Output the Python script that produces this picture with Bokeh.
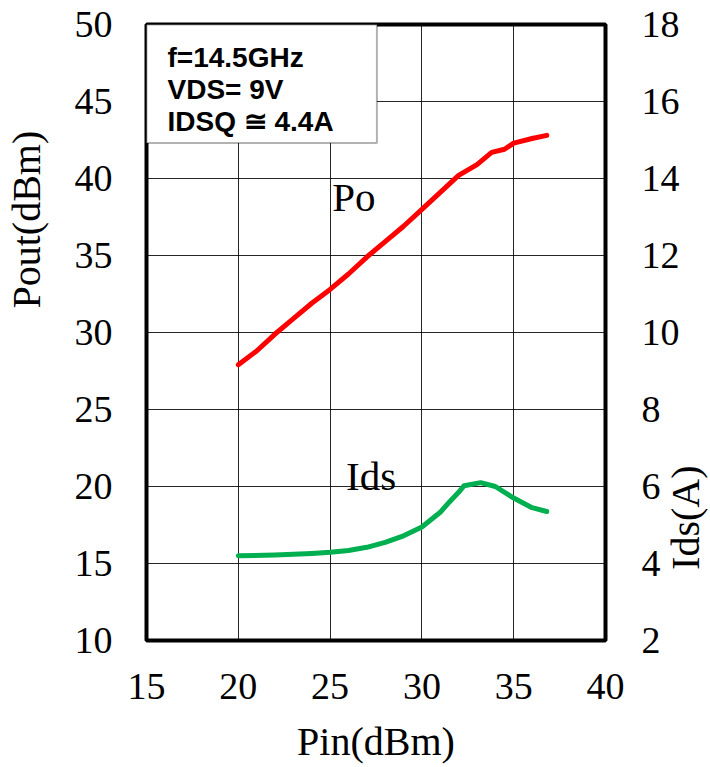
import math
from bokeh.plotting import figure
from bokeh.models import Range1d, LinearAxis, Label, BoxAnnotation, FixedTicker, Title
from bokeh.embed import file_html
from bokeh.resources import INLINE

# ---- data ----
pin_po = [20, 21, 22, 23, 24, 25, 26, 27, 28, 29, 30, 31, 32, 33, 33.8, 34.5, 35, 36, 36.8]
po = [27.9, 28.8, 29.9, 30.9, 31.9, 32.8, 33.8, 34.9, 35.9, 36.9, 38.0, 39.1, 40.2, 40.9, 41.7, 41.9, 42.3, 42.6, 42.8]

pin_ids = [20, 22, 24, 25, 26, 27, 28, 29, 30, 31, 31.5, 32, 32.3, 33.2, 34, 35, 36, 36.8]
ids = [4.2, 4.22, 4.26, 4.29, 4.34, 4.42, 4.55, 4.72, 4.95, 5.33, 5.6, 5.85, 6.02, 6.1, 6.0, 5.7, 5.45, 5.35]

x_ticks = [15, 20, 25, 30, 35, 40]
y_ticks = [10, 15, 20, 25, 30, 35, 40, 45, 50]
y2_ticks = [2, 4, 6, 8, 10, 12, 14, 16, 18]

note_lines = ["f=14.5GHz", "VDS= 9V", "IDSQ \u2245 4.4A"]

SERIF = "Liberation Serif"

p = figure(width=710, height=766, output_backend="svg", toolbar_location=None,
           x_range=Range1d(15, 40), y_range=Range1d(10, 50),
           min_border_left=146, min_border_right=105, min_border_top=24, min_border_bottom=126)
p.extra_y_ranges = {"ids": Range1d(2, 18)}

p.outline_line_color = "black"
p.outline_line_width = 4
p.background_fill_color = "white"
p.border_fill_color = "white"

def style_axis(ax, standoff):
    ax.axis_line_color = None
    ax.major_tick_line_color = None
    ax.minor_tick_line_color = None
    ax.major_tick_out = 0
    ax.major_tick_in = 0
    ax.major_label_text_font = SERIF
    ax.major_label_text_font_size = "38px"
    ax.major_label_text_color = "black"
    ax.major_label_standoff = standoff
    ax.axis_label_text_font = SERIF
    ax.axis_label_text_font_size = "40px"
    ax.axis_label_text_font_style = "normal"
    ax.axis_label_text_color = "black"

p.xaxis.ticker = FixedTicker(ticks=x_ticks)
p.yaxis.ticker = FixedTicker(ticks=y_ticks)
style_axis(p.xaxis[0], 33)
style_axis(p.yaxis[0], 34)
p.xaxis.axis_label = "Pin(dBm)"
p.xaxis.axis_label_standoff = 17

ax2 = LinearAxis(y_range_name="ids", ticker=FixedTicker(ticks=y2_ticks))
style_axis(ax2, 36)
p.add_layout(ax2, "right")

# right-hand title: a side-panel label (placed in the left stack, drawn at the right edge)
p.add_layout(Label(x=659, y=5.19, x_units="screen", y_range_name="ids", text="Ids(A)",
                   angle=math.pi / 2, text_font=SERIF, text_font_size="40px",
                   text_color="black", text_align="center", text_baseline="middle"), "left")

# left-hand title
p.add_layout(Title(text="Pout(dBm)", align="left", offset=332, vertical_align="middle",
                   standoff=-48, text_font=SERIF, text_font_size="40px",
                   text_font_style="normal", text_color="black"), "left")

p.xgrid.ticker = FixedTicker(ticks=x_ticks)
p.ygrid.ticker = FixedTicker(ticks=y_ticks)
for g in (p.xgrid[0], p.ygrid[0]):
    g.grid_line_color = "black"
    g.grid_line_width = 1
    g.grid_line_alpha = 0.85

p.line(pin_po, po, line_color="#ff0000", line_width=5, line_cap="round", line_join="round")
p.line(pin_ids, ids, line_color="#00b050", line_width=5, line_cap="round", line_join="round",
       y_range_name="ids")

# note box
box = BoxAnnotation(left=15, right=27.55, top=50, bottom=42.3,
                    fill_color="white", fill_alpha=1.0,
                    line_color="black", line_width=2, level="annotation")
p.add_layout(box)
for i, t in enumerate(note_lines):
    p.add_layout(Label(x=21, y=583 - 32 * i, x_units="screen", y_units="screen", text=t,
                       text_font="Liberation Sans", text_font_style="bold",
                       text_font_size="28px", text_color="black",
                       text_baseline="alphabetic", text_align="left"))

# curve labels
p.add_layout(Label(x=26.3, y=38.8, text="Po", text_font=SERIF, text_font_size="41px",
                   text_align="center", text_baseline="alphabetic", text_color="black"))
p.add_layout(Label(x=27.23, y=20.7, text="Ids", text_font=SERIF, text_font_size="41px",
                   text_align="center", text_baseline="alphabetic", text_color="black"))

open("out.html", "w").write(file_html(p, INLINE))
